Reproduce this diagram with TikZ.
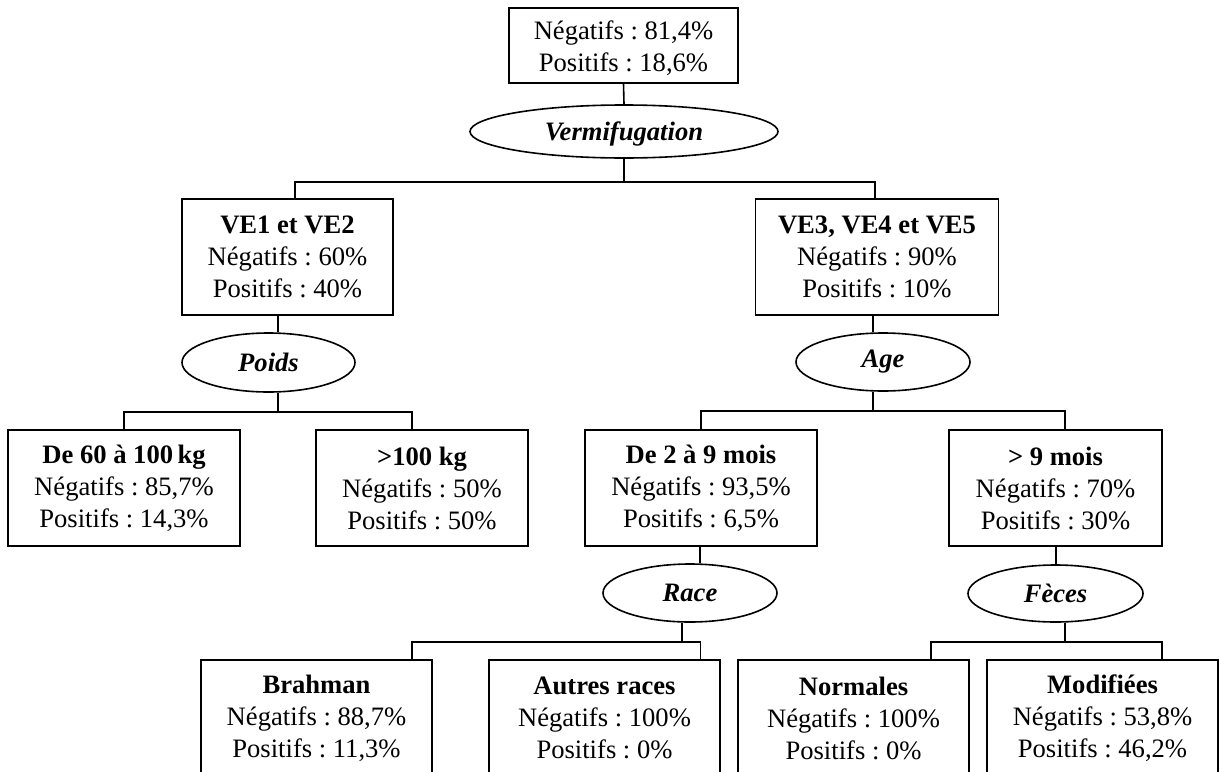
\documentclass[tikz,border=0pt]{standalone}
\usepackage{fontspec}
\setmainfont{Liberation Serif}
\usepackage{tikz}
\usetikzlibrary{shapes.geometric, calc}
\frenchspacing

\tikzset{
    leaf/.style={draw, thick, rectangle, align=center, inner sep=0pt,
        minimum height=58pt, font=\fontsize{13.3}{16}\selectfont},
    crit/.style={draw, thick, ellipse, inner sep=0pt, minimum width=87pt,
        minimum height=29pt, font=\fontsize{13.3}{16}\selectfont\bfseries\itshape},
}

\begin{document}
\begin{tikzpicture}[x=0.5pt, y=-0.5pt, thick]
    \clip (0,0) rectangle (1219,771);
    % root
    \node[leaf, minimum width=114.5pt, minimum height=37.5pt] (root) at (623.5,45.5) {\rule{0pt}{12pt}N\'egatifs : 81,4\%\\Positifs : 18,6\%};
    \node[crit, minimum width=154pt, minimum height=26.5pt] (verm) at (624,131.5) {\rule{0pt}{12pt}Vermifugation};
    % first split
    \node[leaf, minimum width=105.5pt] (ve12) at (287.5,257) {\textbf{VE1 et VE2}\\N\'egatifs : 60\%\\Positifs : 40\%};
    \node[leaf, minimum width=121.5pt] (ve345) at (877,257) {\textbf{VE3, VE4 et VE5}\\N\'egatifs : 90\%\\Positifs : 10\%};
    \node[crit, minimum width=86.5pt, minimum height=29.5pt] (poids) at (268.5,362.5) {Poids};
    \node[crit] (age) at (883,362) {Age};
    % second split
    \node[leaf, minimum width=116pt] (de60) at (124,488) {\textbf{De 60 \`a 100\,kg}\\N\'egatifs : 85,7\%\\Positifs : 14,3\%};
    \node[leaf, minimum width=106pt] (sup100) at (422,488) {\textbf{>100 kg}\\N\'egatifs : 50\%\\Positifs : 50\%};
    \node[leaf, minimum width=116pt] (de29) at (701,488) {\textbf{De 2 \`a 9 mois}\\N\'egatifs : 93,5\%\\Positifs : 6,5\%};
    \node[leaf, minimum width=106.5pt] (sup9) at (1055.5,488) {\textbf{> 9 mois}\\N\'egatifs : 70\%\\Positifs : 30\%};
    \node[crit] (race) at (690,593) {Race};
    \node[crit, minimum width=87.5pt, minimum height=28.5pt] (feces) at (1055.5,593.5) {F\`eces};
    % third split
    \node[leaf, minimum width=115.5pt] (brahman) at (316.5,718) {\textbf{Brahman}\\N\'egatifs : 88,7\%\\Positifs : 11,3\%};
    \node[leaf, minimum width=115.5pt] (autres) at (604.5,718) {\textbf{Autres races}\\N\'egatifs : 100\%\\Positifs : 0\%};
    \node[leaf, minimum width=115.5pt] (normales) at (853.5,718) {\textbf{Normales}\\N\'egatifs : 100\%\\Positifs : 0\%};
    \node[leaf, minimum width=115.5pt] (modif) at (1102.5,718) {\textbf{Modifi\'ees}\\N\'egatifs : 53,8\%\\Positifs : 46,2\%};
    % connectors
    \draw (root.south) -- (verm.north);
    \draw (verm.south) -- ++(0,23) coordinate (b1);
    \draw ($(ve12.north)+(7.5,0)$) |- (b1) -| ($(ve345.north)+(-2,0)$);
    \draw ($(ve12.south)+(-9.5,0)$) -- ($(poids.north)+(9.5,0)$);
    \draw ($(poids.south)+(9.5,0)$) -- ++(0,19) coordinate (b2);
    \draw (de60.north) |- (b2) -| ($(sup100.north)+(-10,0)$);
    \draw ($(ve345.south)+(-4,0)$) -- ($(age.north)+(-10,0)$);
    \draw ($(age.south)+(-10,0)$) -- ++(0,19) coordinate (b3);
    \draw (de29.north) |- (b3) -| ($(sup9.north)+(9.5,0)$);
    \draw ($(de29.south)+(-1,0)$) -- ($(race.north)+(10,0)$);
    \draw ($(race.south)+(-8,0)$) -- ++(0,19) coordinate (b4);
    \draw ($(brahman.north)+(95.5,0)$) |- (b4) -| ($(autres.north)+(96,0)$);
    \draw ($(sup9.south)+(0.5,0)$) -- ($(feces.north)+(0.5,0)$);
    \draw ($(feces.south)+(9.5,0)$) -- ++(0,19) coordinate (b5);
    \draw ($(normales.north)+(77.5,0)$) |- (b5) -| ($(modif.north)+(59.5,0)$);
\end{tikzpicture}
\end{document}
